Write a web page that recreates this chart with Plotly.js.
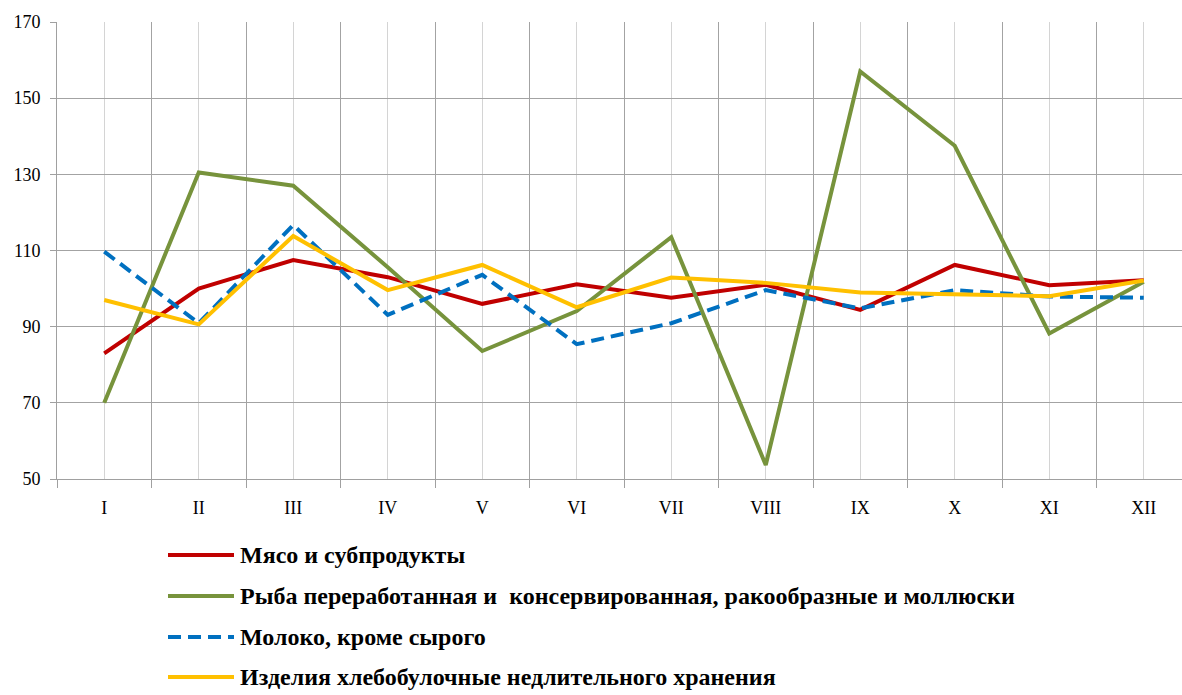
<!DOCTYPE html>
<html><head><meta charset="utf-8">
<script src="https://cdn.plot.ly/plotly-3.0.1.min.js"></script>
<style>html,body{margin:0;padding:0;background:#fff;overflow:hidden}</style>
</head><body><div id="chart" style="width:1182px;height:695px"></div>
<script>
const months = ["I","II","III","IV","V","VI","VII","VIII","IX","X","XI","XII"];
const seriesNames = [
  "Мясо и субпродукты",
  "Рыба переработанная и  консервированная, ракообразные и моллюски",
  "Молоко, кроме сырого",
  "Изделия хлебобулочные недлительного хранения"
];
const meat  = [83, 100, 107.5, 103, 96, 101.1, 97.6, 101, 94.4, 106.2, 100.9, 102.2];
const fish  = [70, 130.5, 127, 105.6, 83.6, 94.1, 113.5, 53.7, 157, 137.5, 88.2, 101.8];
const milk  = [109.7, 90.9, 116.7, 93.1, 103.6, 85.4, 90.9, 99.6, 94.8, 99.6, 97.9, 97.6];
const bread = [97, 90.6, 113.8, 99.6, 106.2, 95.1, 102.9, 101.5, 99, 98.5, 98, 102.1];

const colors = ["#C00000", "#77933C", "#0070C0", "#FFC000"];
const dashes = ["solid", "solid", "13px,7px", "solid"];
const values = [meat, fish, milk, bread];
const xIdx = months.map((m, i) => i);
const serif = "'Liberation Serif', 'Times New Roman', 'DejaVu Serif', serif";

const traces = values.map((v, k) => ({
  x: xIdx, y: v, type: "scatter", mode: "lines", name: seriesNames[k],
  line: {color: colors[k], width: 4, dash: dashes[k]}, showlegend: false,
  hoverinfo: "x+y"
}));

const W = 1182, H = 695, mL = 57, mT = 22, mB = 216, mR = 0;
const pw = W - mL - mR, ph = H - mT - mB;
const px2x = p => (p - mL) / pw;
const py2y = p => (H - mB - p) / ph;
const legRows = [555, 596, 637, 677];
const shapes = [], annotations = [];
seriesNames.forEach((n, k) => {
  shapes.push({type: "line", xref: "paper", yref: "paper",
    x0: px2x(168), x1: px2x(234), y0: py2y(legRows[k]), y1: py2y(legRows[k]),
    line: {color: colors[k], width: 4, dash: dashes[k]}});
  annotations.push({xref: "paper", yref: "paper", x: px2x(238), y: py2y(legRows[k]),
    xanchor: "left", yanchor: "middle", showarrow: false, text: "<b>" + n + "</b>",
    font: {family: serif, size: 24, color: "#000"}});
});

const layout = {
  width: W, height: H,
  margin: {l: mL, r: mR, t: mT, b: mB},
  paper_bgcolor: "#fff", plot_bgcolor: "#fff",
  showlegend: false,
  font: {family: serif, size: 18, color: "#000"},
  xaxis: {
    range: [-0.5, -0.5 + pw / 94.5], tickmode: "array", tickvals: xIdx, ticktext: months,
    showgrid: true, gridcolor: "#d4d4d4", gridwidth: 1, ticks: "",
    ticklabelstandoff: 12, zeroline: false,
    showline: true, linecolor: "#a0a0a0", linewidth: 1,
    minor: {tick0: 0.5, dtick: 1, showgrid: true, gridcolor: "#a3a3a3", gridwidth: 1,
            ticks: "outside", ticklen: 8, tickcolor: "#a0a0a0"},
    fixedrange: true
  },
  yaxis: {
    range: [50, 170], tickmode: "linear", tick0: 50, dtick: 20,
    showgrid: true, gridcolor: "#a3a3a3", gridwidth: 1, zeroline: false,
    showline: true, linecolor: "#a0a0a0", linewidth: 1,
    ticks: "outside", ticklen: 6, tickcolor: "#a0a0a0", ticklabelstandoff: 6,
    fixedrange: true
  },
  shapes: shapes, annotations: annotations
};
Plotly.newPlot("chart", traces, layout, {displayModeBar: false, staticPlot: true});
</script></body></html>
